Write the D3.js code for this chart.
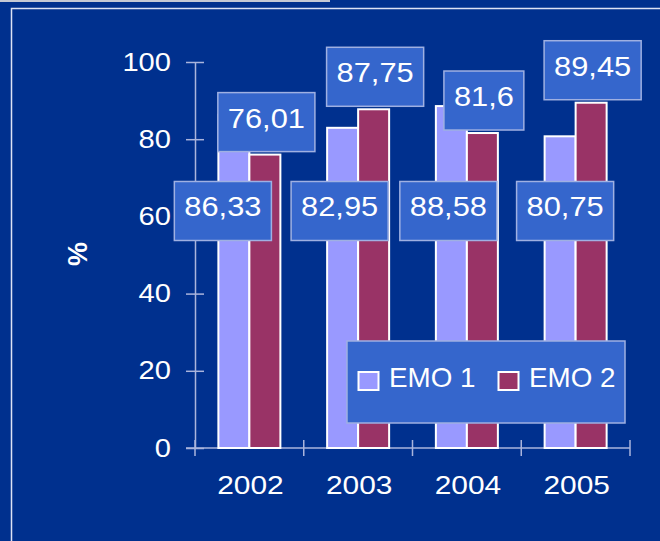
<!DOCTYPE html>
<html>
<head>
<meta charset="utf-8">
<script src="https://cdn.jsdelivr.net/npm/d3@7"></script>
<style>
  body { margin: 0; background: #00308e; }
  svg text { font-family: "Liberation Sans", Arial, sans-serif; fill: #fff; }
</style>
</head>
<body>
<div id="chart"></div>
<script>
// data
var years = ['2002', '2003', '2004', '2005'];
var emo1 = [86.33, 82.95, 88.58, 80.75];
var emo2 = [76.01, 87.75, 81.6, 89.45];
var yTicks = [0, 20, 40, 60, 80, 100];
var seriesNames = ['EMO 1', 'EMO 2'];
var seriesColors = ['#9999ff', '#993366'];

var width = 660, height = 541;
var svg = d3.select('#chart').append('svg')
  .attr('width', width)
  .attr('height', height);

svg.append('rect')
  .attr('width', width)
  .attr('height', height)
  .attr('fill', '#00308e');

// slide frame bits
svg.append('rect')
  .attr('x', 0).attr('y', 0)
  .attr('width', 330).attr('height', 2)
  .attr('fill', '#c4c8d4');
svg.append('rect')
  .attr('x', 11.5).attr('y', 8.5)
  .attr('width', 700).attr('height', 600)
  .attr('fill', 'none')
  .attr('stroke', '#dde2f4')
  .attr('stroke-width', 1.5);

var x = d3.scaleBand()
  .domain(years)
  .range([195, 630]);

var y = d3.scaleLinear()
  .domain([0, 100])
  .range([448, 62]);

var barW = 31;
var axisColor = '#aab4dc';
// the EMO 1 labels were dragged a little sideways in the original
var emo1LabelNudge = [-11, -3, -3, 5];

// text is a bit wider than the plain font, so stretch it horizontally
function stretchText(g, tx, ty, str, size, sx, anchor) {
  return g.append('text')
    .attr('transform', 'translate(' + tx + ',' + ty + ') scale(' + sx + ',1)')
    .attr('text-anchor', anchor)
    .style('font-size', size + 'px')
    .text(str);
}

// y axis
var yAxis = svg.append('g')
  .attr('transform', 'translate(195,0)')
  .call(d3.axisLeft(y).tickValues(yTicks).tickSizeOuter(0).tickFormat(''));
yAxis.select('.domain').attr('stroke', axisColor).attr('stroke-width', 1.5);
yAxis.selectAll('.tick line')
  .attr('x1', -9).attr('x2', 9)
  .attr('stroke', axisColor).attr('stroke-width', 1.5);

yTicks.forEach(function(t) {
  stretchText(svg, 171, y(t) + 8.5, t, 26, 1.12, 'end');
});

// x axis, ticks on the band edges
svg.append('line')
  .attr('x1', 186).attr('x2', x.range()[1])
  .attr('y1', y(0)).attr('y2', y(0))
  .attr('stroke', axisColor).attr('stroke-width', 1.5);
var edges = years.map(function(d) { return x(d); }).concat([x.range()[1]]);
svg.selectAll('.xtick')
  .data(edges)
  .enter().append('line')
  .attr('class', 'xtick')
  .attr('x1', function(d) { return d; })
  .attr('x2', function(d) { return d; })
  .attr('y1', y(0) - 8).attr('y2', y(0) + 8)
  .attr('stroke', axisColor).attr('stroke-width', 1.5);

years.forEach(function(d) {
  stretchText(svg, x(d) + x.bandwidth() / 2 + 1, 494, d, 26, 1.15, 'middle');
});

// y title
svg.append('text')
  .attr('transform', 'translate(80,254) rotate(-90)')
  .attr('text-anchor', 'middle')
  .attr('dominant-baseline', 'middle')
  .style('font-size', '27px')
  .style('font-weight', 'bold')
  .text('%');

// bars
[emo1, emo2].forEach(function(series, si) {
  svg.selectAll('.bar' + si)
    .data(series)
    .enter().append('rect')
    .attr('class', 'bar' + si)
    .attr('x', function(d, i) { return x(years[i]) + x.bandwidth() / 2 - barW + si * barW; })
    .attr('y', function(d) { return y(d); })
    .attr('width', barW)
    .attr('height', function(d) { return y(0) - y(d); })
    .attr('fill', seriesColors[si])
    .attr('stroke', '#fff')
    .attr('stroke-width', 2);
});

// value labels in boxes
function fmt(v) { return String(v).replace('.', ','); }

function labelBox(cx, top, v) {
  var g = svg.append('g');
  var r = g.append('rect');
  var t = stretchText(g, cx, top + 35, fmt(v), 28, 1.1, 'middle');
  var w = t.node().getComputedTextLength() * 1.1 + 20;
  r.attr('x', cx - w / 2).attr('y', top)
    .attr('width', w).attr('height', 59)
    .attr('fill', '#3566cc')
    .attr('stroke', '#9fb0e2')
    .attr('stroke-width', 1.5);
}

emo1.forEach(function(v, i) {
  var cx = x(years[i]) + x.bandwidth() / 2 - barW / 2 + emo1LabelNudge[i];
  labelBox(cx, y(61.4) - 29.5, v);
});
emo2.forEach(function(v, i) {
  var cx = x(years[i]) + x.bandwidth() / 2 + barW / 2 + 1.5;
  labelBox(cx, y(v) - 3 - 59, v);
});

// legend
var lg = svg.append('g').attr('transform', 'translate(347,341)');
lg.append('rect')
  .attr('width', 278).attr('height', 82)
  .attr('fill', '#3566cc')
  .attr('stroke', '#9fb0e2')
  .attr('stroke-width', 1.5);
seriesNames.forEach(function(name, i) {
  lg.append('rect')
    .attr('x', 11.5 + i * 140).attr('y', 31)
    .attr('width', 20).attr('height', 18)
    .attr('fill', seriesColors[i])
    .attr('stroke', '#fff')
    .attr('stroke-width', 2);
  stretchText(lg, 42 + i * 140, 46, name, 27, 1.03, 'start');
});
</script>
</body>
</html>
